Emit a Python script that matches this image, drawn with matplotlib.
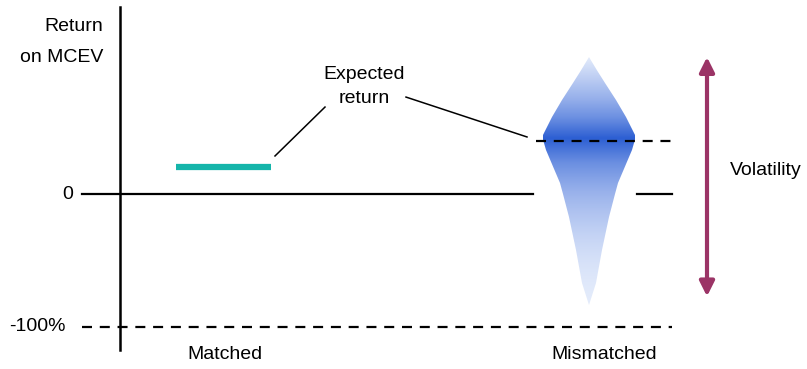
import numpy as np
import matplotlib.pyplot as plt
from matplotlib.colors import LinearSegmentedColormap

plt.rcParams['font.family'] = ['Liberation Sans', 'DejaVu Sans']

# values (return on MCEV, %)
categories = ["Matched", "Mismatched"]
matched_return = 20
expected_return = 40
floor_return = -100
vol_top = 103
vol_bottom = -77

# shape of the mismatched distribution: return level vs half width
dist_y = [103, 93, 83.5, 70.7, 57.9, 44.4, 41, 33.1, 8.3, 0, -17.3, -42.1, -66.9, -83.5]
dist_hw = [0, 8, 16, 27, 37, 46, 46, 43, 29, 26, 20, 13, 7, 0]

# layout (x in figure units)
x_axis = 120
x_cat = [225, 604]
x_dist = 589
x_matched = (176, 271)
x_right = 672
x_arrow = 707

fig = plt.figure(figsize=(8.07, 3.69), dpi=100)
ax = fig.add_axes([0, 0, 1, 1])
ax.axis('off')

# distribution polygon with vertical gradient
xs = [x_dist - w for w in dist_hw] + [x_dist + w for w in dist_hw[::-1]]
ys = dist_y + dist_y[::-1]
poly = ax.fill(xs, ys, color='none', lw=0)[0]
cmap = LinearSegmentedColormap.from_list(
    'b', [(0, '#e3ebfb'), (0.5, '#98b1eb'), (0.75, '#6b8fe1'), (1, '#2d5fd3')])
ylo, yhi = -131.6, 145.9
yy = np.linspace(ylo, yhi, 600)
peak = 42
val = np.where(yy >= peak,
               1 - (yy - peak) / (dist_y[0] - peak),
               (1 - (peak - yy) / (peak - dist_y[-1])).clip(0) ** 1.8)
val = np.clip(val, 0, 1)
img = ax.imshow(val[:, None], cmap=cmap, vmin=0, vmax=1, aspect='auto',
                extent=[x_dist - 50, x_dist + 50, ylo, yhi], origin='lower', zorder=2)
img.set_clip_path(poly)
ax.set_xlim(0, 807)
ax.set_ylim(ylo, yhi)

# axes lines
ax.plot([x_axis, x_axis], [140.6, -117.3], color='black', lw=1.8, zorder=3)
ax.plot([82, 533], [0, 0], color='black', lw=1.6, zorder=3)
ax.plot([637, x_right], [0, 0], color='black', lw=1.6, zorder=3)
ax.plot([82, x_right], [floor_return, floor_return], color='black', lw=1.6,
        dashes=(4.5, 3.5), zorder=3)
ax.plot([536, x_right], [expected_return, expected_return], color='black', lw=1.6,
        dashes=(4.5, 3.5), zorder=3)

# matched return
ax.plot(x_matched, [matched_return, matched_return], color='#15b5aa', lw=4.5,
        solid_capstyle='butt', zorder=3)

# leader lines
ax.plot([275, 325], [28.6, 65.4], color='black', lw=1.1)
ax.plot([406, 527], [72.9, 42.9], color='black', lw=1.1)

# volatility arrow
ax.annotate('', xy=(x_arrow, vol_top), xytext=(x_arrow, vol_bottom),
            arrowprops=dict(arrowstyle='<|-|>', color='#9b3466', lw=3,
                            mutation_scale=22, shrinkA=0, shrinkB=0))

fs = 14
ax.text(103, 125.6, "Return", ha='right', va='center', fontsize=fs)
ax.text(103, 103, "on MCEV", ha='right', va='center', fontsize=fs)
ax.text(73, 0, "0", ha='right', va='center', fontsize=fs)
ax.text(66, floor_return, "-100%", ha='right', va='center', fontsize=fs)
ax.text(364, 89.5, "Expected", ha='center', va='center', fontsize=fs)
ax.text(364, 72.2, "return", ha='center', va='center', fontsize=fs)
ax.text(730, 18, "Volatility", ha='left', va='center', fontsize=fs)
for xc, lab in zip(x_cat, categories):
    ax.text(xc, -121, lab, ha='center', va='center', fontsize=fs)

fig.savefig('out.png', dpi=100)
